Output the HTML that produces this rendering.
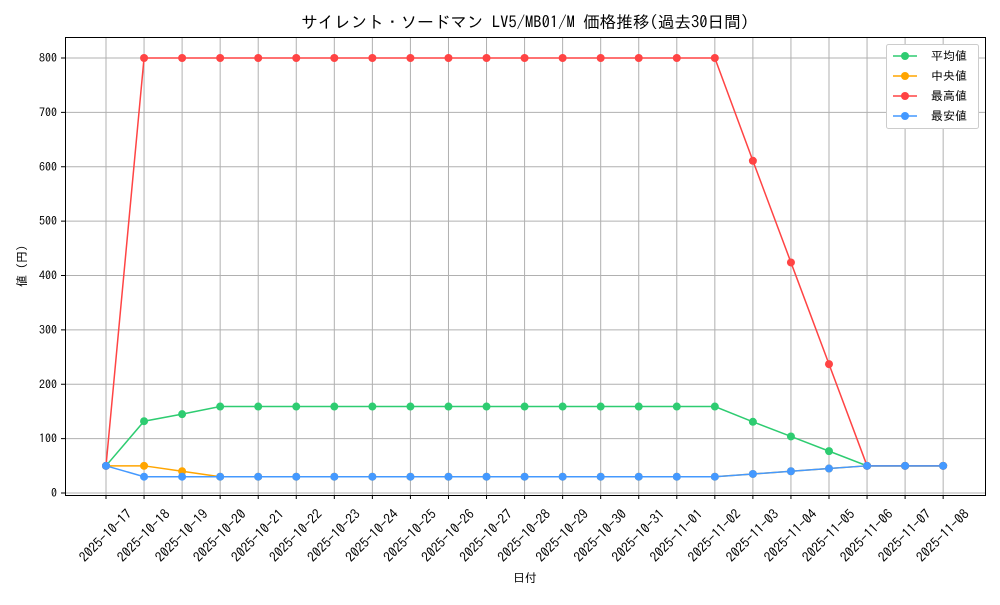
<!DOCTYPE html>
<html><head><meta charset="utf-8"><style>
html,body{margin:0;padding:0;background:#fff;}
svg text{font-family:"IPAGothic","Liberation Sans","Noto Sans CJK JP",sans-serif;fill:#000;}
</style></head><body>
<svg width="1000" height="600" viewBox="0 0 1000 600" xmlns="http://www.w3.org/2000/svg">
<rect width="1000" height="600" fill="#fff"/>
<text x="525" y="28" font-size="16.6" text-anchor="middle">サイレント・ソードマン LV5/MB01/M 価格推移(過去30日間)</text>
<g id="grid" stroke="#b0b0b0" stroke-width="1"></g>
<rect x="65.5" y="37.5" width="920" height="458" fill="none" stroke="#000" stroke-width="1"/>
<g id="ticks"></g>
<g id="series"></g>
<text x="525" y="582" font-size="12" text-anchor="middle">日付</text>
<text x="26" y="266" font-size="12" text-anchor="middle" transform="rotate(-90 26 266)">値 (円)</text>
<g>
<rect x="886.5" y="44.5" width="92" height="84" fill="#fff" stroke="#ccc" rx="2"/>
<line x1="893" y1="56" x2="917" y2="56" stroke="#2ecc71" stroke-width="1.5"/><circle cx="905" cy="56" r="4" fill="#2ecc71"/><text x="931" y="60" font-size="12">平均値</text>
<line x1="893" y1="76" x2="917" y2="76" stroke="#ffa500" stroke-width="1.5"/><circle cx="905" cy="76" r="4" fill="#ffa500"/><text x="931" y="80" font-size="12"> 中央値</text>
<line x1="893" y1="96" x2="917" y2="96" stroke="#ff4444" stroke-width="1.5"/><circle cx="905" cy="96" r="4" fill="#ff4444"/><text x="931" y="100" font-size="12">最高値</text>
<line x1="893" y1="116" x2="917" y2="116" stroke="#4499ff" stroke-width="1.5"/><circle cx="905" cy="116" r="4" fill="#4499ff"/><text x="931" y="120" font-size="12">最安値</text>
</g>
</svg>
<script>
const ns="http://www.w3.org/2000/svg";
const dates=["2025-10-17","2025-10-18","2025-10-19","2025-10-20","2025-10-21","2025-10-22","2025-10-23","2025-10-24","2025-10-25","2025-10-26","2025-10-27","2025-10-28","2025-10-29","2025-10-30","2025-10-31","2025-11-01","2025-11-02","2025-11-03","2025-11-04","2025-11-05","2025-11-06","2025-11-07","2025-11-08"];
const X=i=>106+i*(943-106)/21.996;
const Y=v=>493-v*(493-58)/800;
function el(t,a,p,txt){const e=document.createElementNS(ns,t);for(const k in a)e.setAttribute(k,a[k]);if(txt!==undefined)e.textContent=txt;p.appendChild(e);return e;}
const g=document.getElementById("grid"),tk=document.getElementById("ticks"),s=document.getElementById("series");
dates.forEach((d,i)=>{const x=X(i);el("line",{x1:x,y1:37,x2:x,y2:495},g);el("line",{x1:x,y1:495,x2:x,y2:499,stroke:"#000"},tk);
el("text",{x:x,y:540,"font-size":"13.5","text-anchor":"middle",transform:`rotate(-45 ${x} 536)`},tk,d);});
for(let v=0;v<=800;v+=100){const y=Y(v);el("line",{x1:65,y1:y,x2:985,y2:y},g);el("line",{x1:61,y1:y,x2:65,y2:y,stroke:"#000"},tk);el("text",{x:57,y:y+4,"font-size":"12","text-anchor":"end"},tk,v);}
const avg=[50,132,145].concat(Array(14).fill(159),[131,104,77,50,50,50]);
const med=[50,50,40].concat(Array(14).fill(30),[35,40,45,50,50,50]);
const mx=[50].concat(Array(16).fill(800),[611,424,237,50,50,50]);
const mn=[50,30,30].concat(Array(14).fill(30),[35,40,45,50,50,50]);
[[avg,"#2ecc71"],[med,"#ffa500"],[mx,"#ff4444"],[mn,"#4499ff"]].forEach(([d,c])=>{
el("polyline",{points:d.map((v,i)=>X(i)+","+Y(v)).join(" "),fill:"none",stroke:c,"stroke-width":1.5},s);
d.forEach((v,i)=>el("circle",{cx:X(i),cy:Y(v),r:4,fill:c},s));});
</script>
</body></html>
